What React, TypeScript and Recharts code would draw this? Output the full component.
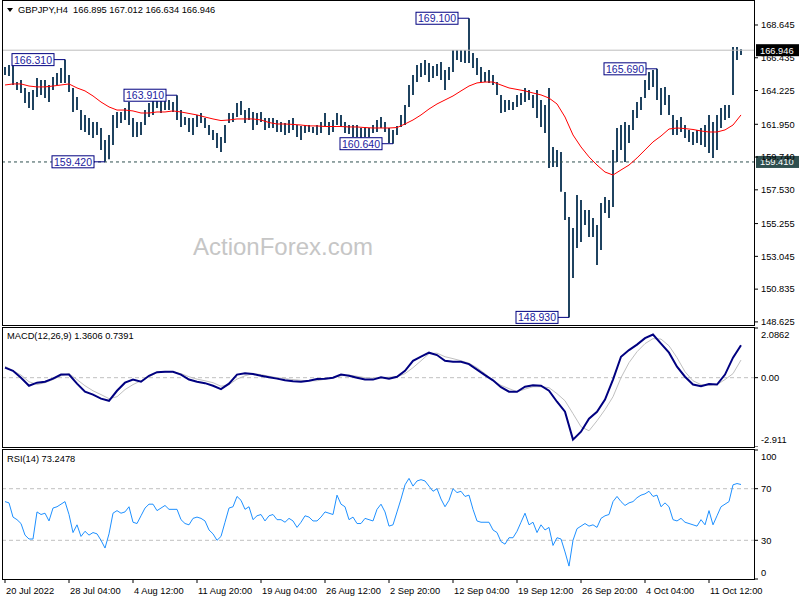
import React from 'react';
import { ComposedChart, Bar, Line, XAxis, YAxis, ReferenceLine, ReferenceDot } from 'recharts';

// GBPJPY H4 bars, two H4 bars merged per slot
const highs = [
  165.82, 165.95, 165.88, 164.8, 164.94, 164.4, 164.13, 164.26, 165.07, 164.94,
  164.94, 164.6, 165.14, 165.41, 165.75, 166.31, 165.27, 164.4, 163.79, 162.91,
  162.58, 162.38, 162.1, 162.1, 161.7, 160.89, 161.23, 162.58, 162.78, 162.78,
  163.05, 163.45, 162.38, 162.1, 162.1, 162.91, 163.39, 163.59, 163.8, 163.59,
  163.72, 163.59, 163.45, 163.91, 162.91, 162.44, 162.38, 162.38, 162.58, 162.71,
  162.38, 161.9, 161.57, 161.37, 161.1, 161.9, 162.71, 162.71, 163.39, 163.52,
  162.91, 163.05, 162.78, 162.71, 162.78, 162.38, 162.38, 162.38, 162.24, 162.1,
  162.04, 162.24, 162.38, 161.9, 161.84, 161.9, 161.9, 161.77, 161.9, 162.1,
  162.71, 162.1, 162.24, 162.71, 162.58, 162.1, 161.9, 161.9, 161.9, 161.7,
  161.77, 161.7, 161.9, 162.24, 162.44, 162.1, 161.7, 161.57, 161.84, 162.58,
  163.25, 164.6, 165.27, 165.95, 166.08, 166.28, 166.08, 165.88, 166.01, 166.15,
  165.61, 165.82, 166.96, 166.96, 166.96, 166.96, 169.1, 166.76, 166.42, 165.82,
  165.48, 165.61, 165.27, 164.8, 163.93, 163.59, 163.59, 163.45, 163.93, 164.06,
  164.4, 164.26, 163.93, 164.26, 163.59, 163.25, 164.4, 160.42, 160.22, 160.08,
  157.38, 155.7, 154.96, 157.18, 156.84, 156.17, 156.17, 155.63, 155.16, 156.64,
  157.04, 156.84, 160.22, 161.7, 161.9, 162.1, 161.9, 162.91, 163.45, 163.79,
  164.94, 165.48, 165.61, 165.69, 164.4, 164.47, 163.93, 162.58, 162.24, 162.44,
  161.9, 161.57, 161.43, 161.57, 161.7, 161.9, 162.58, 162.1, 162.58, 163.05,
  163.25, 163.25, 167.16, 167.16, 167.01,
];

const lows = [
  165.27, 165.2, 164.6, 164.26, 164.06, 163.39, 163.05, 162.91, 163.79, 163.93,
  163.72, 163.45, 164.26, 164.6, 164.74, 164.74, 164.13, 162.78, 162.91, 161.57,
  161.43, 161.23, 161.03, 161.23, 160.22, 159.42, 159.6, 160.55, 161.7, 162.04,
  162.24, 161.9, 161.1, 161.1, 161.23, 161.9, 162.44, 162.58, 163.05, 162.71,
  162.91, 162.91, 162.78, 162.24, 161.77, 161.9, 161.43, 161.23, 161.77, 162.04,
  161.7, 161.23, 160.89, 160.35, 160.08, 160.69, 162.04, 162.1, 162.44, 162.58,
  162.04, 162.24, 161.57, 161.9, 162.1, 161.57, 161.7, 161.7, 161.43, 161.43,
  161.23, 161.37, 161.57, 161.1, 160.89, 161.37, 161.43, 161.37, 161.23, 161.37,
  161.77, 161.23, 161.43, 161.9, 161.77, 161.37, 161.3, 161.1, 161.1, 160.89,
  161.1, 161.1, 161.37, 161.43, 161.7, 161.43, 160.69, 160.64, 161.23, 161.77,
  161.9, 163.12, 163.93, 164.8, 165.14, 165.27, 164.8, 165.07, 165.2, 164.94,
  164.26, 164.94, 165.48, 166.28, 166.15, 166.08, 166.08, 165.75, 165.27, 164.8,
  164.8, 164.74, 164.6, 163.93, 162.71, 162.78, 162.91, 162.91, 163.12, 163.25,
  163.45, 163.59, 163.05, 162.38, 161.77, 161.37, 159.0, 159.07, 159.07, 157.4,
  155.5, 148.93, 151.59, 153.61, 154.01, 155.16, 154.35, 154.35, 152.46, 153.47,
  155.97, 155.63, 156.37, 159.41, 160.22, 159.41, 160.69, 161.57, 162.38, 162.91,
  163.72, 164.26, 164.47, 163.59, 162.58, 163.25, 162.58, 161.23, 161.23, 161.43,
  161.03, 160.76, 160.55, 160.69, 160.55, 160.42, 160.01, 159.68, 160.22, 161.7,
  162.24, 162.38, 163.93, 166.28, 166.63,
];

// red moving average, read every second slot
const maValues = [
  164.6, 164.67, 164.67, 164.53, 164.47, 164.47, 164.53, 164.6, 164.67, 164.4,
  164.2, 163.86, 163.45, 163.12, 162.91, 162.91, 162.85, 162.71, 162.71, 162.78,
  162.78, 162.85, 162.78, 162.68, 162.58, 162.44, 162.31, 162.2, 162.24, 162.31,
  162.31, 162.31, 162.24, 162.07, 161.97, 161.97, 161.94, 161.9, 161.84, 161.84,
  161.8, 161.8, 161.8, 161.77, 161.77, 161.73, 161.7, 161.7, 161.7, 161.73,
  161.97, 162.24, 162.58, 162.98, 163.32, 163.59, 163.86, 164.2, 164.53, 164.74,
  164.8, 164.8, 164.6, 164.4, 164.3, 164.2, 164.06, 163.93, 163.72, 163.32,
  162.44, 161.23, 160.42, 159.75, 159.2, 158.73, 158.53, 158.87, 159.2, 159.68,
  160.22, 160.76, 161.16, 161.63, 161.7, 161.66, 161.6, 161.5, 161.43, 161.43,
  161.57, 161.9, 162.58,
];

const macdMain = [
  0.42, 0.29, 0.0, -0.34, -0.21, -0.17, -0.04, 0.13, 0.13, -0.25,
  -0.59, -0.71, -0.88, -0.97, -0.55, -0.21, -0.08, -0.17, 0.08, 0.23,
  0.25, 0.25, 0.13, -0.08, -0.17, -0.23, -0.34, -0.48, -0.25, 0.13,
  0.19, 0.15, 0.08, 0.02, -0.04, -0.11, -0.15, -0.17, -0.13, -0.06,
  -0.04, 0.0, 0.13, 0.08, 0.0, -0.08, -0.08, 0.02, -0.04, 0.04,
  0.29, 0.71, 0.88, 1.05, 0.95, 0.71, 0.67, 0.67, 0.57, 0.34,
  0.11, -0.11, -0.4, -0.59, -0.59, -0.38, -0.32, -0.34, -0.55, -1.01,
  -1.43, -2.6, -2.27, -1.72, -1.43, -0.92, -0.08, 0.88, 1.16, 1.39,
  1.66, 1.81, 1.43, 1.05, 0.46, 0.04, -0.29, -0.36, -0.27, -0.29,
  0.13, 0.84, 1.36,
];

const macdSignal = [
  0.48, 0.29, 0.11, -0.17, -0.29, -0.21, -0.08, 0.08, 0.17, -0.08,
  -0.34, -0.55, -0.71, -0.88, -0.8, -0.5, -0.29, -0.13, 0.04, 0.21,
  0.23, 0.25, 0.17, 0.04, -0.06, -0.13, -0.21, -0.36, -0.29, -0.06,
  0.08, 0.17, 0.13, 0.06, 0.0, -0.04, -0.08, -0.11, -0.13, -0.13,
  -0.06, 0.0, 0.08, 0.11, 0.06, 0.0, -0.02, 0.0, 0.02, 0.04,
  0.17, 0.42, 0.71, 1.01, 1.03, 0.88, 0.8, 0.71, 0.61, 0.42,
  0.17, -0.13, -0.32, -0.46, -0.59, -0.48, -0.38, -0.38, -0.42, -0.67,
  -0.97, -1.51, -2.06, -2.23, -1.81, -1.34, -0.8, 0.0, 0.63, 1.09,
  1.43, 1.64, 1.62, 1.34, 0.84, 0.25, -0.13, -0.29, -0.32, -0.29,
  -0.08, 0.17, 0.74,
];

const rsiValues = [
  60, 59, 48, 46, 43, 34, 31, 31, 52, 50,
  51, 45, 55, 56, 58, 60, 50, 36, 42, 33,
  37, 34, 36, 35, 30, 24, 35, 51, 53, 51,
  52, 56, 44, 43, 49, 55, 58, 58, 53, 55,
  57, 54, 54, 54, 46, 43, 42, 47, 48, 47,
  45, 38, 35, 30, 33, 44, 55, 56, 64, 61,
  54, 56, 46, 49, 50, 45, 49, 50, 46, 46,
  44, 47, 45, 40, 44, 49, 48, 45, 45, 48,
  52, 51, 50, 65, 58, 56, 46, 48, 43, 43,
  47, 46, 45, 54, 58, 52, 41, 42, 52, 62,
  73, 78, 72, 76, 77, 76, 72, 68, 70, 62,
  56, 61, 70, 67, 68, 64, 65, 54, 45, 44,
  44, 44, 38, 36, 29, 27, 32, 32, 37, 44,
  51, 42, 44, 36, 42, 38, 40, 26, 32, 31,
  21, 10, 30, 39, 41, 43, 41, 42, 40, 47,
  49, 50, 60, 64, 60, 57, 59, 60, 63, 65,
  66, 68, 64, 65, 56, 59, 56, 46, 45, 47,
  44, 43, 42, 41, 46, 42, 53, 42, 49, 56,
  58, 60, 73, 74, 73.25,
];

const priceTicks = [148.625, 150.835, 153.045, 155.255, 157.53, 159.74, 161.95, 164.225, 166.435, 168.645];
const macdTicks = [-2.911, 0, 2.0862];
const rsiTicks = [0, 30, 70, 100];
const timeLabels = [
  '20 Jul 2022', '28 Jul 04:00', '4 Aug 12:00', '11 Aug 20:00', '19 Aug 04:00', '26 Aug 12:00',
  '2 Sep 20:00', '12 Sep 04:00', '19 Sep 12:00', '26 Sep 20:00', '4 Oct 04:00', '11 Oct 12:00',
];
const pivots = [
  { i: 15, price: 166.31, text: '166.310' },
  { i: 25, price: 159.42, text: '159.420' },
  { i: 43, price: 163.91, text: '163.910' },
  { i: 97, price: 160.64, text: '160.640' },
  { i: 116, price: 169.1, text: '169.100' },
  { i: 141, price: 148.93, text: '148.930' },
  { i: 163, price: 165.69, text: '165.690' },
];

const SLOTS = 188;
const data = Array.from({ length: SLOTS }, (_, i) => {
  const half = i % 2 === 0 ? i / 2 : -1;
  return {
    i,
    range: i < highs.length ? [lows[i], highs[i]] : null,
    ma: half >= 0 && half < maValues.length ? maValues[half] : null,
    macd: half >= 0 && half < macdMain.length ? macdMain[half] : null,
    signal: half >= 0 && half < macdSignal.length ? macdSignal[half] : null,
    rsi: i < rsiValues.length ? rsiValues[i] : null,
  };
});

const FONT = '"Liberation Sans", Arial, sans-serif';
const FS = 9.3;

const SideTick = (props: any) => {
  const { x, y, payload, fmt, shift } = props;
  return (
    <text x={x} y={y} dy={3.3 + (shift ? shift(payload.value) : 0)} fontSize={FS} fontFamily={FONT} fill="#000" textAnchor="start">
      {fmt(payload.value)}
    </text>
  );
};

const TimeTick = (props: any) => {
  const { x, y, payload } = props;
  return (
    <text x={x + 1} y={y} dy={8.5} fontSize={FS} fontFamily={FONT} fill="#000" textAnchor="start">
      {timeLabels[Math.round(payload.value / 16)]}
    </text>
  );
};

const PivotBox = (props: any) => {
  const { cx, cy, text } = props;
  if (cx == null || cy == null) return null;
  const right = cx - 11;
  return (
    <g>
      <line x1={right} y1={cy} x2={cx} y2={cy} stroke="#000080" strokeWidth={1} />
      <rect x={right - 42} y={cy - 6} width={42} height={12} fill="#fff" stroke="#000080" strokeWidth={1} />
      <text x={right - 21} y={cy + 4} textAnchor="middle" fontSize={10.5} fontFamily={FONT} fill="#1c1ca0">
        {text}
      </text>
    </g>
  );
};

const PriceTag = (props: any) => {
  const { viewBox, text, bg } = props;
  if (!viewBox) return null;
  const x = viewBox.x + viewBox.width + 1;
  return (
    <g>
      <rect x={x} y={viewBox.y - 6} width={43} height={12} fill={bg} />
      <text x={x + 4} y={viewBox.y + 3.5} fontSize={FS} fontFamily={FONT} fill="#fff">
        {text}
      </text>
    </g>
  );
};

const frame = (top: number, height: number): React.CSSProperties => ({
  position: 'absolute',
  left: 2,
  top,
  width: 753,
  height,
  border: '1px solid #000',
  boxSizing: 'border-box',
  pointerEvents: 'none',
});

const label: React.CSSProperties = {
  position: 'absolute',
  fontSize: FS,
  lineHeight: '12px',
  color: '#000',
  whiteSpace: 'pre',
};

export default function App() {
  return (
    <div style={{ position: 'absolute', left: 0, top: 0, width: 800, height: 600, background: '#fff', overflow: 'hidden', fontFamily: FONT }}>
      <div style={{ position: 'absolute', left: 193, top: 234, fontSize: 24, lineHeight: '26px', color: '#c6c6c6' }}>ActionForex.com</div>

      <div style={{ position: 'absolute', left: 0, top: 0 }}>
        <ComposedChart width={800} height={326} data={data} margin={{ top: 1, right: 0, bottom: 1, left: 3 }}>
          <XAxis dataKey="i" scale="band" hide />
          <YAxis
            orientation="right"
            width={45}
            type="number"
            domain={[148.416, 170.263]}
            allowDataOverflow
            ticks={priceTicks}
            interval={0}
            axisLine={false}
            tickSize={3}
            tickMargin={3}
            tickLine={{ stroke: '#000' }}
            tick={(p: any) => <SideTick {...p} fmt={(v: number) => v.toFixed(3)} />}
          />
          <ReferenceLine y={166.946} stroke="#bdbdbd" strokeWidth={1} label={<PriceTag text="166.946" bg="#000" />} />
          <ReferenceLine y={159.41} stroke="#2f4f4f" strokeDasharray="3 3" label={<PriceTag text="159.410" bg="#2f4f4f" />} />
          <Bar dataKey="range" fill="#1f4360" barSize={2} isAnimationActive={false} />
          <Line dataKey="ma" stroke="#ff0000" strokeWidth={1} dot={false} connectNulls isAnimationActive={false} />
          {pivots.map((p) => (
            <ReferenceDot key={p.text} x={p.i} y={p.price} r={0} shape={(s: any) => <PivotBox {...s} text={p.text} />} />
          ))}
        </ComposedChart>
      </div>

      <div style={{ position: 'absolute', left: 0, top: 327 }}>
        <ComposedChart width={800} height={120} data={data} margin={{ top: 1, right: 0, bottom: 0, left: 3 }}>
          <XAxis dataKey="i" scale="band" hide />
          <YAxis
            orientation="right"
            width={45}
            type="number"
            domain={[-2.911, 2.0862]}
            allowDataOverflow
            ticks={macdTicks}
            interval={0}
            axisLine={false}
            tickSize={3}
            tickMargin={3}
            tickLine={{ stroke: '#000' }}
            tick={(p: any) => (
              <SideTick
                {...p}
                fmt={(v: number) => (v === 0 ? '0.00' : String(v))}
                shift={(v: number) => (v > 1 ? 7 : v < -1 ? -7 : 0)}
              />
            )}
          />
          <ReferenceLine y={0} stroke="#c0c0c0" strokeDasharray="4 3" />
          <Line dataKey="signal" stroke="#c0c0c0" strokeWidth={1} dot={false} connectNulls isAnimationActive={false} />
          <Line dataKey="macd" stroke="#000080" strokeWidth={2} dot={false} connectNulls isAnimationActive={false} />
        </ComposedChart>
      </div>

      <div style={{ position: 'absolute', left: 0, top: 449 }}>
        <ComposedChart width={800} height={151} data={data} margin={{ top: 1, right: 0, bottom: 0, left: 3 }}>
          <XAxis
            dataKey="i"
            scale="band"
            height={21}
            ticks={[0, 16, 32, 48, 64, 80, 96, 112, 128, 144, 160, 176]}
            interval={0}
            axisLine={false}
            tickSize={4}
            tickLine={{ stroke: '#000' }}
            tick={(p: any) => <TimeTick {...p} />}
          />
          <YAxis
            orientation="right"
            width={45}
            type="number"
            domain={[0, 100]}
            ticks={rsiTicks}
            interval={0}
            axisLine={false}
            tickSize={3}
            tickMargin={3}
            tickLine={{ stroke: '#000' }}
            tick={(p: any) => (
              <SideTick {...p} fmt={(v: number) => String(v)} shift={(v: number) => (v === 100 ? 7 : v === 0 ? -6 : 0)} />
            )}
          />
          <ReferenceLine y={70} stroke="#c0c0c0" strokeDasharray="4 3" />
          <ReferenceLine y={30} stroke="#c0c0c0" strokeDasharray="4 3" />
          <Line dataKey="rsi" stroke="#1e90ff" strokeWidth={1} dot={false} isAnimationActive={false} />
        </ComposedChart>
      </div>

      <div style={frame(0, 326)} />
      <div style={frame(327, 121)} />
      <div style={frame(449, 131)} />

      <svg style={{ position: 'absolute', left: 0, top: 0 }} width={20} height={20}>
        <polygon points="7,8 13,8 10,12" fill="#000" />
      </svg>
      <div style={{ ...label, left: 18, top: 4 }}>GBPJPY,H4  166.895 167.012 166.634 166.946</div>
      <div style={{ ...label, left: 7, top: 330 }}>MACD(12,26,9) 1.3606 0.7391</div>
      <div style={{ ...label, left: 7, top: 453 }}>RSI(14) 73.2478</div>
    </div>
  );
}
